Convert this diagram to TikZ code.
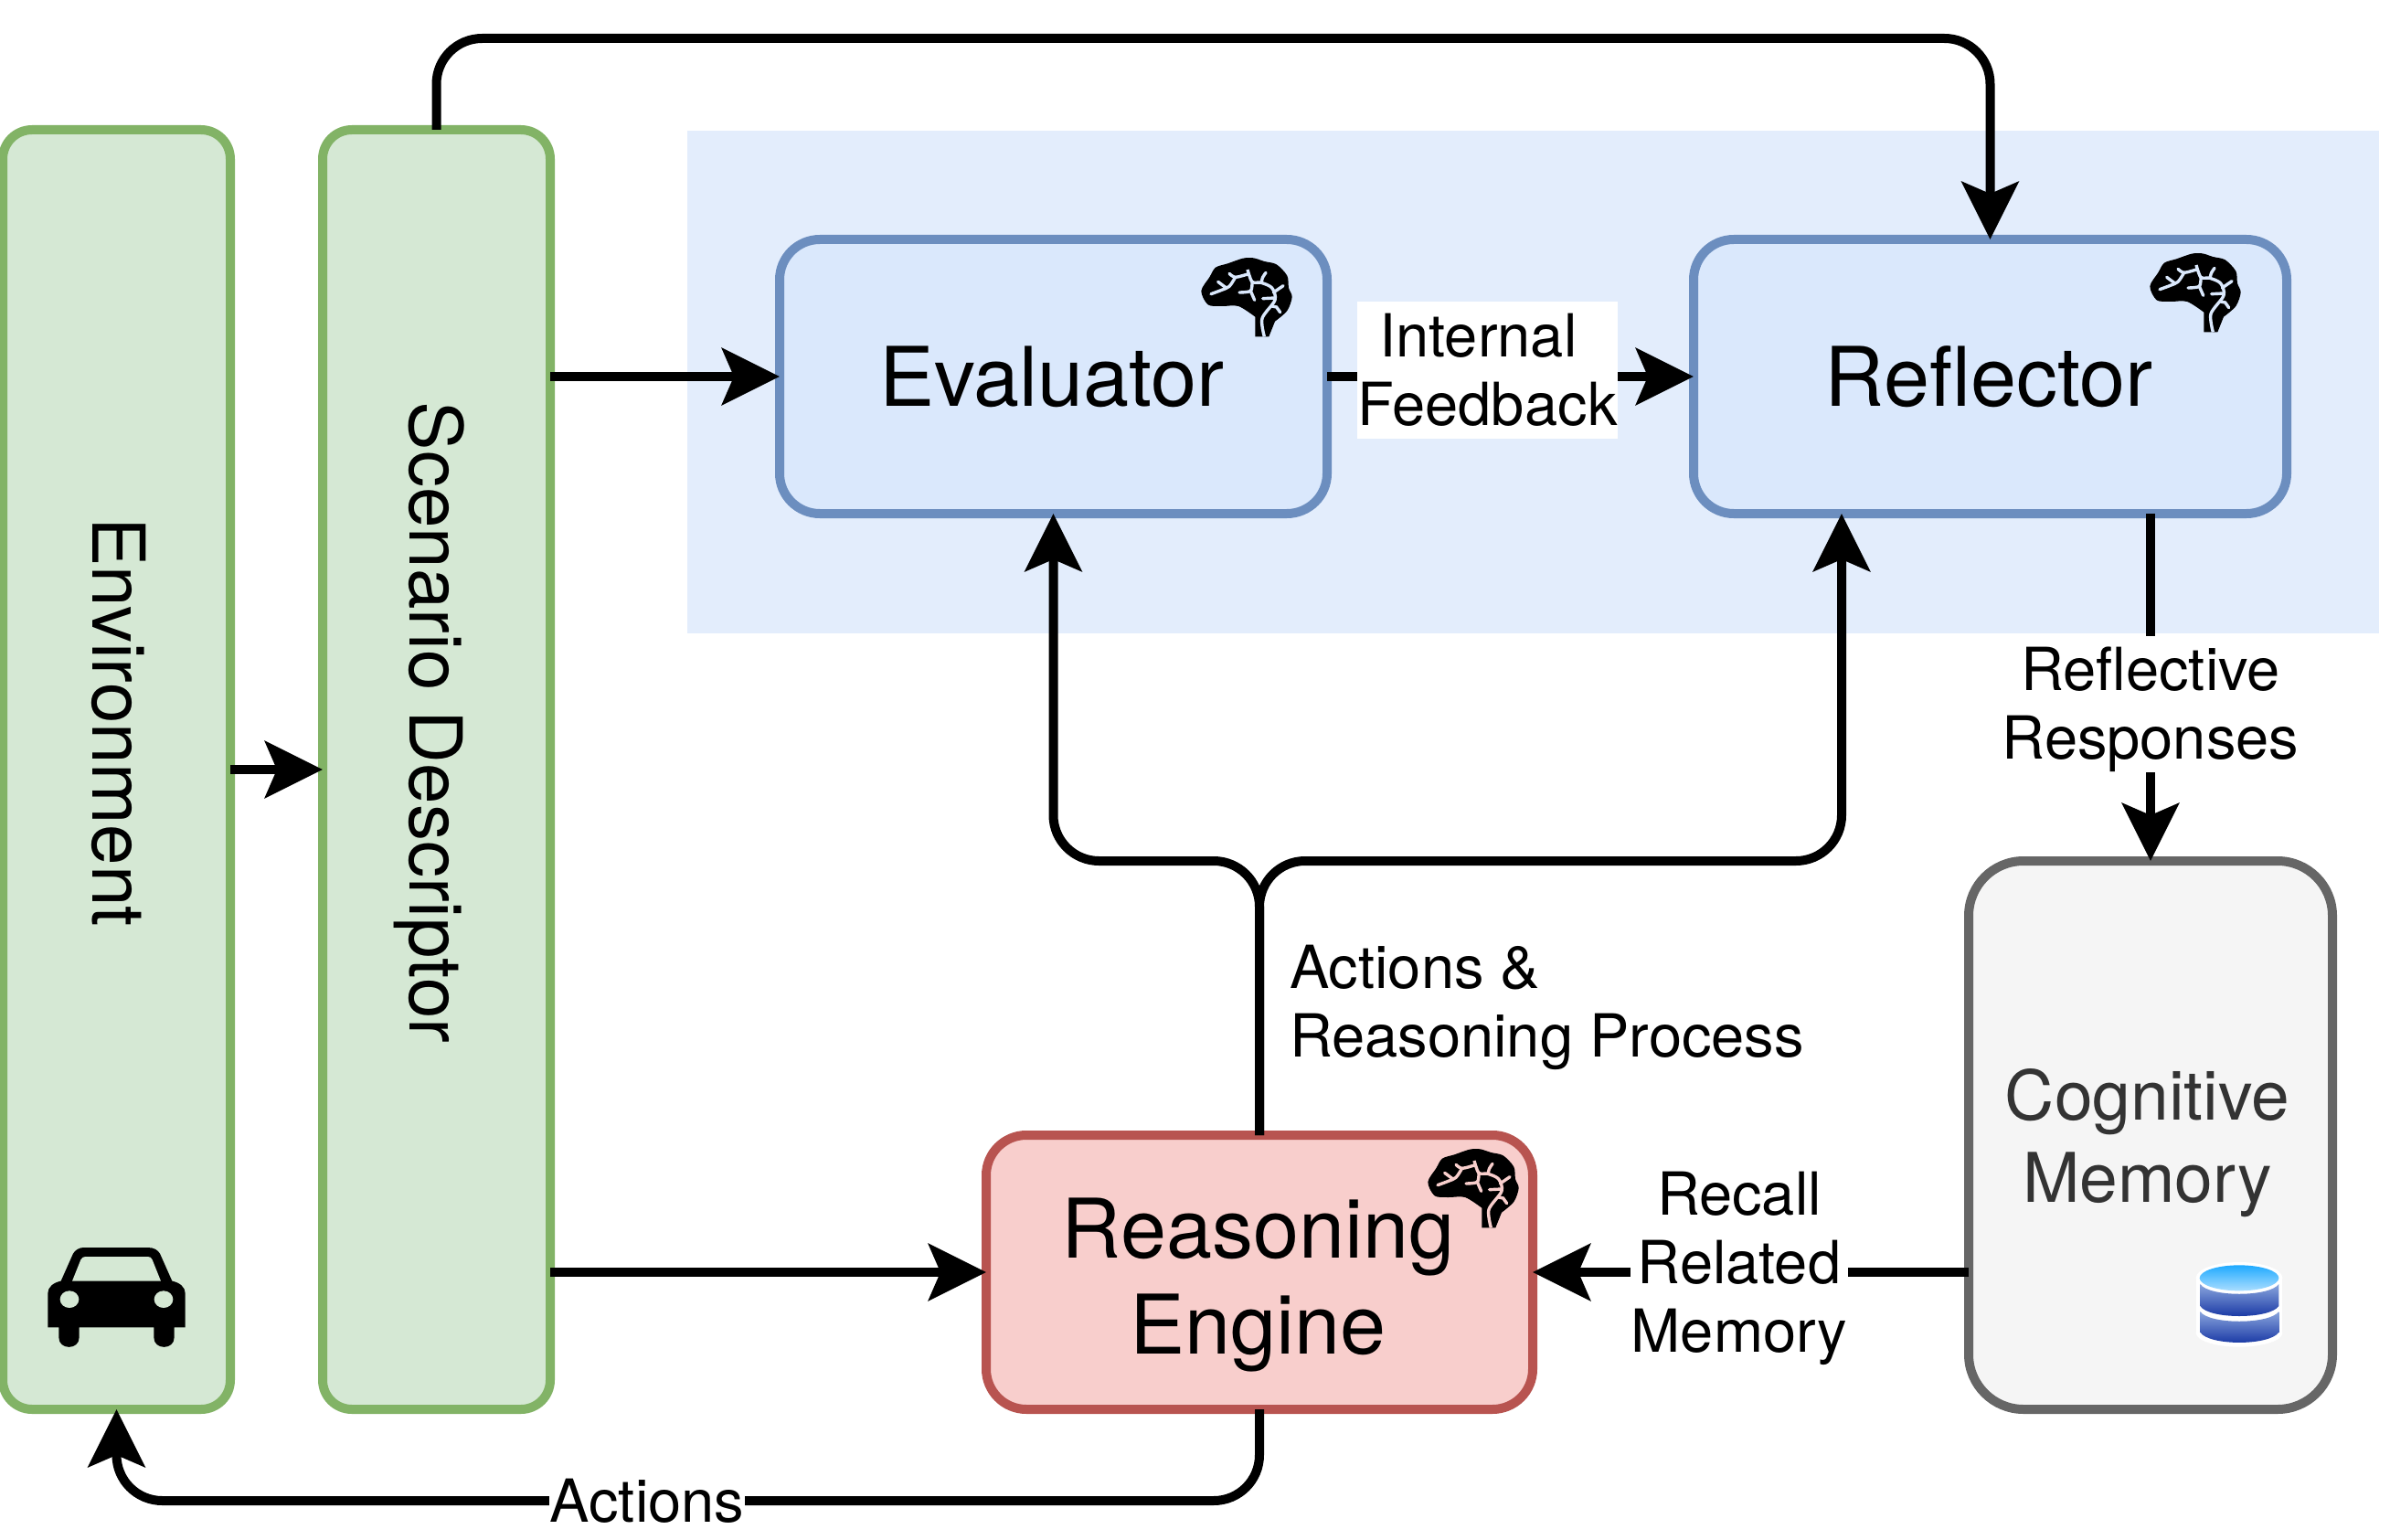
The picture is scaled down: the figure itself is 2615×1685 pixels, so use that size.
\documentclass[tikz,border=0pt]{standalone}
\usepackage{fontspec}
\setmainfont{TeX Gyre Heros}
\usetikzlibrary{arrows.meta}
\definecolor{greenfill}{HTML}{D5E8D4}
\definecolor{greenline}{HTML}{82B366}
\definecolor{bluefill}{HTML}{DAE8FC}
\definecolor{blueline}{HTML}{6C8EBF}
\definecolor{bluepanel}{HTML}{E3EDFC}
\definecolor{redfill}{HTML}{F8CECC}
\definecolor{redline}{HTML}{B85450}
\definecolor{grayfill}{HTML}{F5F5F5}
\definecolor{grayline}{HTML}{666666}
\definecolor{graytext}{HTML}{333333}
\definecolor{dbtop}{HTML}{1FAAFF}
\definecolor{dbtoplow}{HTML}{AADDFF}
\definecolor{dbband}{HTML}{8AA5DD}
\definecolor{dbbandlow}{HTML}{1030A0}
\tikzset{
  box/.style={draw, line width=10pt, rounded corners=44pt, outer sep=0pt, inner sep=0pt},
  envbox/.style={box, draw=greenline, fill=greenfill, minimum width=249pt, minimum height=1400pt, rounded corners=32pt},
  agentbox/.style={box, draw=blueline, fill=bluefill, minimum height=300pt},
  bigtext/.style={align=center, font=\fontsize{90}{105}\selectfont},
  flow/.style={draw=black, line width=10pt, -{Stealth[length=63pt, width=62pt, inset=13pt]}},
  turnflow/.style={flow, rounded corners=50pt},
  lbl/.style={fill=white, inner sep=1pt, align=center, font=\fontsize{65}{75}\selectfont},
  side/.style={rotate=-90, font=\fontsize{80}{90}\selectfont},
  pics/brainicon/.style={code={
    \fill[black] plot[smooth] coordinates {(280,320) (225,285) (170,285) (125,280) (103,235) (130,190) (150,158) (190,145) (240,128) (275,127) (310,138) (350,148) (385,185) (390,225) (401,255) (385,300) (345,335)} -- (325,385) -- (280,385) -- cycle;
    \begin{scope}[draw=#1, line width=3.4pt, line cap=round]
      \draw[line cap=butt] plot[smooth] coordinates {(310,385) (303,325) (345,265) (335,225) (300,208) (270,205) (255,165)};
      \draw plot[smooth] coordinates {(255,180) (215,190) (195,178)};
      \draw plot[smooth] coordinates {(215,190) (195,220) (170,232) (135,245)};
      \draw (185,225) -- (158,205);
      \draw plot[smooth] coordinates {(300,208) (305,190) (315,175)};
      \draw (340,240) -- (372,218);
      \draw plot[smooth] coordinates {(270,205) (265,235) (228,240)};
      \draw (265,235) -- (278,265);
      \draw (345,258) -- (305,260);
      \draw (335,285) -- (350,288) -- (362,305);
    \end{scope}
  }},
  pics/caricon/.style={code={
    \fill[black] (157,457) -- (157,345) .. controls (157,325) and (175,310) .. (200,305) -- (240,215) .. controls (247,203) and (260,195) .. (275,195) -- (485,195) .. controls (505,195) and (518,203) .. (525,215) -- (565,305) .. controls (590,310) and (608,325) .. (608,345) -- (608,457) -- (572,457) -- (572,490) .. controls (572,532) and (505,532) .. (505,490) -- (505,457) -- (260,457) -- (260,490) .. controls (260,532) and (193,532) .. (193,490) -- (193,457) -- cycle;
    \fill[greenfill] (237,305) -- (265,235) .. controls (269,228) and (274,225) .. (280,225) -- (485,225) .. controls (492,225) and (498,228) .. (500,235) -- (528,305) -- cycle;
    \fill[greenfill] (228,365) ellipse [x radius=31, y radius=28];
    \fill[greenfill] (537,365) ellipse [x radius=31, y radius=28];
  }},
  pics/dbicon/.style={code={
    \fill[white] (300,145) ellipse [x radius=142, y radius=52];
    \fill[white] (158,145) rectangle (442,325);
    \fill[white] (300,325) ellipse [x radius=142, y radius=46];
    \shade[top color=dbtop, bottom color=dbtoplow] (300,145) ellipse [x radius=130, y radius=42];
    \shade[top color=dbband, bottom color=dbbandlow] (172,165) .. controls (200,208) and (400,208) .. (430,165) -- (430,237) .. controls (400,281) and (200,281) .. (172,237) -- cycle;
    \shade[top color=dbband, bottom color=dbbandlow] (172,255) .. controls (200,298) and (400,298) .. (430,255) -- (430,323) .. controls (400,368) and (200,368) .. (172,323) -- cycle;
  }}
}
\begin{document}
\begin{tikzpicture}[x=1pt, y=-1pt]
  \useasboundingbox (0,0) rectangle (2615,1685);
  % painel azul
  \node at (1677.5,418) (panel) [fill=bluepanel, minimum width=1851pt, minimum height=550pt, inner sep=0pt, outer sep=0pt] {};
  % caixas
  \node at (127.5,842) (env) [envbox] {};
  \node at (477.5,842) (scen) [envbox] {};
  \node at (1152.5,412) (eval) [agentbox, minimum width=599pt] {};
  \node at (2177.5,412) (refl) [agentbox, minimum width=649pt] {};
  \node at (1378,1392) (reason) [box, draw=redline, fill=redfill, minimum width=598pt, minimum height=300pt] {};
  \node at (2353,1242) (mem) [box, draw=grayline, fill=grayfill, minimum width=398pt, minimum height=600pt, rounded corners=60pt] {};
  \node at (1151,412) (evaltext) [bigtext] {Evaluator};
  \node at (2176,412) (refltext) [bigtext] {Reflector};
  \node at (1376.5,1406) (reasontext) [bigtext] {Reasoning\\Engine};
  \node at (2349.5,1251) (memtext) [align=center, text=graytext, font=\fontsize{75}{90}\selectfont] {Cognitive\\Memory};
  \node at (130.5,790) (envtext) [side] {Environment};
  \node at (469.5,790.5) (scentext) [side] {Scenario Descriptor};
  % pontos auxiliares
  \coordinate (top) at (477.5,42);
  \coordinate (split) at (1378,942);
  \coordinate (reflin) at (2015,562);
  \coordinate (low) at (1378,1642);
  % ligacoes
  \draw[flow] (env.east) -- (scen.west);
  \draw[flow] (scen.east |- eval) -- (eval.west);
  \draw[flow] (scen.east |- reason) -- (reason.west);
  \draw[turnflow] (scen.north) -- (top) -| (refl.north);
  \draw[flow] (eval.east) -- (refl.west);
  \draw[flow] (mem.north |- refl.south) -- (mem.north);
  \draw[flow] (mem.west |- reason) -- (reason.east);
  \draw[turnflow] (reason.north) -- (split) -| (eval.south);
  \draw[turnflow] (reason.north) -- (split) -| (reflin);
  \draw[turnflow] (reason.south) -- (low) -| (env.south);
  % textos
  \node at (1627.5,405) (fbtext) [lbl, inner sep=0pt, minimum width=285pt, minimum height=150pt] {Internal\hspace*{20pt}\\Feedback};
  \node at (2353,770.5) (resptext) [lbl, inner ysep=0pt] {\rule{0pt}{60pt}Reflective\\Responses};
  \node at (1903,1388) (recalltext) [lbl] {Recall\\Related\\Memory};
  \node at (708,1642.5) (acttext) [lbl] {Actions};
  \node at (1411,1102) (proctext) [anchor=west, align=left, inner sep=0pt, font=\fontsize{65}{75}\selectfont] {Actions \&\\Reasoning Process};
  % icones
  \pic[scale=1/3] at (1280,240) {brainicon=bluefill};
  \pic[scale=1/3] at (2318,235) {brainicon=bluefill};
  \pic[scale=1/3] at (1528,1215) {brainicon=redfill};
  \pic[scale=1/3] at (0,1300) {caricon};
  \pic[scale=1/3] at (2350,1350) {dbicon};
\end{tikzpicture}
\end{document}
